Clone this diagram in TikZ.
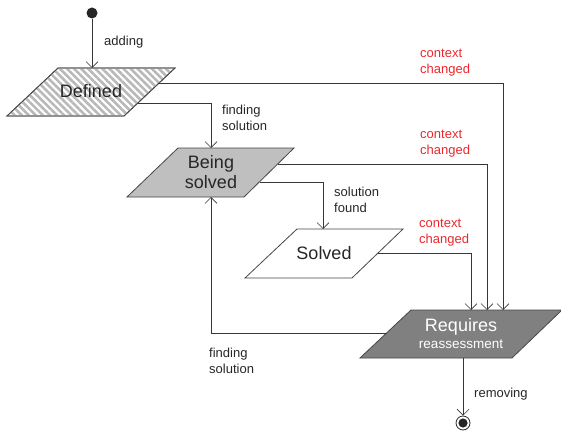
\documentclass[tikz,border=0pt]{standalone}
\usepackage{fontspec}
\setmainfont{Liberation Sans}
\usetikzlibrary{arrows.meta,calc,patterns.meta}
\definecolor{linegray}{RGB}{55,55,55}
\definecolor{edgegray}{RGB}{70,70,70}
\definecolor{ctxred}{RGB}{235,40,45}
\begin{document}
\begin{tikzpicture}[x=1pt,y=-1pt,
  flow/.style={draw=linegray,line width=0.6pt,-{Straight Barb[length=6pt,width=12pt,line width=0.6pt]}},
  shapeedge/.style={draw=edgegray,line width=0.8pt,line join=miter},
  statetext/.style={font=\fontsize{18}{20}\selectfont,text=black!85,align=center,inner sep=0pt},
  lbl/.style={font=\fontsize{13}{16}\selectfont,text=black!85,align=left,anchor=west,inner sep=0pt},
  ctx/.style={lbl,text=ctxred},
]
\useasboundingbox (0,0) rectangle (561,433);

% Defined (hatched)
\path[shapeedge,fill=white] (7,116) coordinate (def-bl) -- (124,116) coordinate (def-br)
  -- (175,68) coordinate (def-tr) -- (58,68) coordinate (def-tl) -- cycle;
\path[pattern={Lines[angle=-45,distance=5pt,line width=2.6pt]},pattern color=gray!55]
  (def-bl) -- (def-br) -- (def-tr) -- (def-tl) -- cycle;
\path[shapeedge] (def-bl) -- (def-br) -- (def-tr) -- (def-tl) -- cycle;
\node[statetext] (def) at (91,91) {Defined};

% Being solved
\path[shapeedge,fill=gray!50] (127,197) coordinate (bs-bl) -- (244,197) coordinate (bs-br)
  -- (294,148) coordinate (bs-tr) -- (178,148) coordinate (bs-tl) -- cycle;
\node[statetext] (bs) at (211,172) {Being\\solved};

% Solved
\path[shapeedge,fill=white] (245,278) coordinate (sv-bl) -- (352,278) coordinate (sv-br)
  -- (403,229) coordinate (sv-tr) -- (297,229) coordinate (sv-tl) -- cycle;
\node[statetext] (sv) at (324,253) {Solved};

% Requires reassessment
\path[shapeedge,fill=gray] (360,358) coordinate (rq-bl) -- (512,358) coordinate (rq-br)
  -- (562,310) coordinate (rq-tr) -- (411,310) coordinate (rq-tl) -- cycle;
\node[statetext,text=white] (rq) at (461,334)
  {Requires\\[-3pt]{\fontsize{13.5}{15}\selectfont reassessment}};

% initial and final states
\node[circle,fill=black!85,minimum size=11pt,inner sep=0pt] (start) at (92,13) {};
\node[circle,draw=black!85,line width=0.8pt,minimum size=14pt,inner sep=0pt] (end) at (463,423) {};
\fill[black!85] (end.center) circle (4.6);

% entry points on the shapes
\coordinate (bs-in)  at (211,148);
\coordinate (bs-up)  at (211,197);
\coordinate (sv-in)  at (323,229);
\coordinate (rq-in1) at (471,310);
\coordinate (rq-in2) at (487,310);
\coordinate (rq-in3) at (503,310);
\coordinate (rq-out) at (463,358);

% transitions
\draw[flow] (start) -- (start |- def-tl);
\draw[flow] ($(def-tr)!0.31!(def-br)$) -| (rq-in3);
\draw[flow] ($(def-tr)!0.73!(def-br)$) -| (bs-in);
\draw[flow] ($(bs-tr)!0.33!(bs-br)$) -| (rq-in2);
\draw[flow] ($(bs-tr)!0.69!(bs-br)$) -| (sv-in);
\draw[flow] ($(sv-tr)!0.49!(sv-br)$) -| (rq-in1);
\draw[flow] ($(rq-tl)!0.48!(rq-bl)$) -| (bs-up);
\draw[flow] (rq-out) -- (end.north);

% labels
\node[lbl] (l-add) at (104,42) {adding};
\node[lbl] (l-fs1) at (222,118) {finding\\solution};
\node[lbl] (l-sf)  at (334,200) {solution\\found};
\node[lbl] (l-fs2) at (209,361) {finding\\solution};
\node[lbl] (l-rem) at (474,394) {removing};
\node[ctx] (c1) at (420,63)  {context\\changed};
\node[ctx] (c2) at (420,144) {context\\changed};
\node[ctx] (c3) at (419,233) {context\\changed};
\end{tikzpicture}
\end{document}
